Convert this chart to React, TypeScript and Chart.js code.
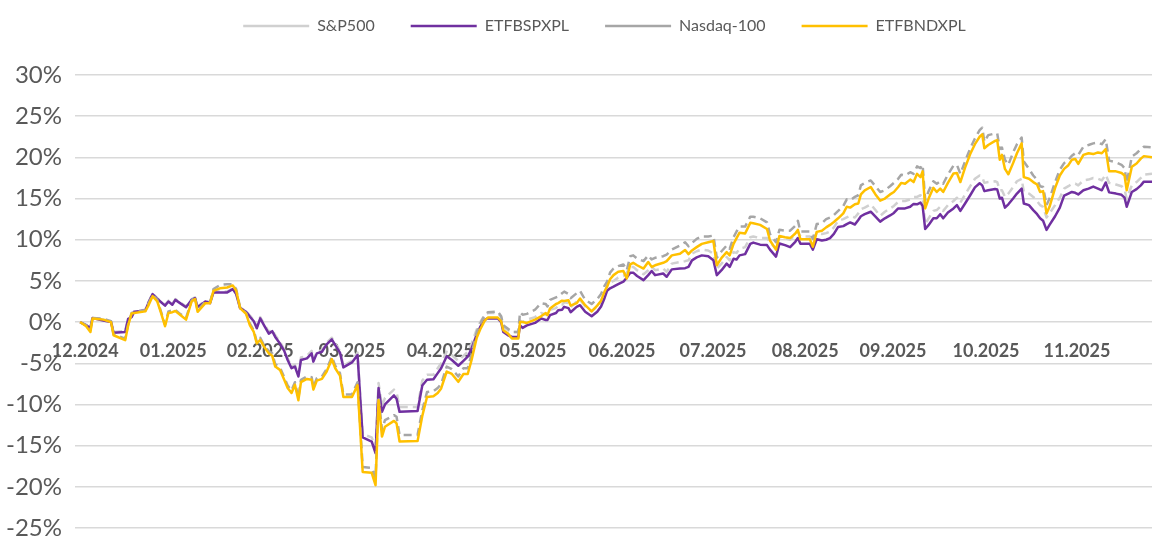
import React, { useEffect, useRef } from "react";
import { Chart, registerables } from "chart.js";

Chart.register(...registerables);

// Trading-day position of each sampled point (0 = first session shown)
const tradingDay = [
  0, 1.4, 2.4, 2.9, 5.4, 7.2, 7.8, 10.5, 11.2, 12.0,
  12.6, 15.2, 15.9, 16.9, 18.0, 18.9, 19.8, 20.6, 21.5, 22.2,
  23.3, 24.7, 26.0, 26.8, 27.4, 29.2, 30.3, 31.1, 32.6, 34.3,
  35.6, 36.4, 37.3, 38.7, 39.6, 40.5, 41.2, 42.0, 42.9, 44.0,
  44.8, 45.5, 46.6, 47.6, 48.4, 49.3, 50.1, 50.9, 51.5, 52.9,
  54.0, 54.4, 55.2, 56.4, 57.5, 58.7, 59.5, 60.6, 61.4, 63.4,
  64.7, 65.9, 68.0, 68.9, 69.6, 70.4, 71.1, 73.2, 73.8, 74.5,
  78.7, 79.8, 80.9, 82.4, 83.4, 84.2, 85.5, 86.7, 88.2, 89.4,
  90.4, 91.3, 92.5, 93.3, 94.4, 95.1, 97.4, 98.2, 98.7, 99.8,
  100.7, 102.2, 102.6, 103.2, 104.2, 106.1, 107.5, 108.6, 109.0, 109.6,
  111.0, 111.5, 112.4, 112.9, 113.9, 114.4, 115.8, 116.6, 117.8, 119.3,
  120.6, 121.5, 122.3, 122.9, 123.6, 124.4, 125.5, 126.7, 127.5, 128.3,
  129.0, 129.9, 131.4, 132.5, 133.3, 134.1, 136.0, 136.8, 138.0, 139.9,
  141.1, 141.9, 142.7, 143.8, 145.0, 146.5, 147.7, 148.5, 149.6, 150.8,
  151.5, 152.4, 153.1, 153.8, 155.1, 156.3, 157.0, 158.6, 160.2, 160.9,
  162.3, 163.1, 164.4, 165.6, 166.8, 167.4, 168.0, 170.2, 170.9, 171.8,
  173.0, 174.0, 174.9, 175.8, 176.8, 178.0, 178.8, 179.6, 180.7, 181.5,
  182.1, 183.0, 184.4, 185.5, 186.6, 187.7, 188.9, 189.8, 190.8, 191.5,
  192.4, 193.6, 194.4, 195.2, 196.0, 196.5, 197.1, 197.9, 199.0, 199.8,
  200.6, 201.3, 202.4, 203.7, 204.5, 205.3, 206.4, 207.6, 208.7, 209.8,
  210.4, 210.9, 211.8, 213.4, 213.9, 214.5, 215.0, 215.7, 216.5, 217.6,
  218.5, 219.6, 220.1, 221.3, 222.3, 223.2, 223.9, 224.6, 225.4, 226.1,
  227.4, 228.5, 229.5, 230.5, 231.3, 232.1, 232.8, 234.0, 235.2, 236.3,
  237.4, 238.3, 239.2, 240.0, 241.6, 242.9, 243.6, 244.1, 245.3, 246.4,
  247.4, 248.1, 250.0,
];

// Cumulative return, %
const sp500 = [
  0, -0.3, -0.6, 0.6, 0.3, 0.1, -1.2, -1.1, 0.5, 0.7,
  1.3, 1.5, 2.4, 3.5, 2.9, 2.5, 2.1, 2.6, 2.2, 2.8,
  2.4, 1.9, 2.8, 3.0, 1.9, 2.6, 2.4, 3.7, 3.7, 3.7,
  4.1, 3.5, 1.8, 1.3, 0.8, 0.2, -0.6, 0.6, -0.2, -1.2,
  -0.9, -1.6, -2.4, -3.3, -4.4, -5.4, -5.2, -6.4, -4.3, -4.1,
  -3.5, -4.6, -3.6, -3.4, -2.5, -1.9, -2.6, -3.5, -5.3, -4.7,
  -3.7, -13.6, -14.0, -15.2, -7.4, -10.2, -9.2, -8.2, -8.5, -10.3,
  -10.3, -7.1, -6.4, -6.4, -5.6, -5.0, -3.6, -4.0, -4.7, -4.1,
  -3.6, -2.6, -0.9, 0.0, 0.9, 1.1, 1.1, 0.6, -0.6, -1.0,
  -1.2, -1.2, 0.2, 0.0, 0.3, 0.6, 1.1, 0.9, 0.9, 1.5,
  1.7, 2.05, 2.1, 2.4, 2.3, 1.8, 2.5, 2.7, 1.9, 1.3,
  1.9, 2.5, 3.5, 4.4, 4.8, 5.0, 5.4, 5.6, 6.0, 6.7,
  6.7, 6.3, 5.8, 6.3, 6.7, 6.3, 6.5, 6.1, 7.1, 7.3,
  7.4, 7.5, 8.3, 8.6, 8.8, 8.7, 8.3, 6.5, 7.1, 7.9,
  7.5, 8.5, 8.4, 8.9, 9.1, 10.3, 10.4, 10.2, 10.2, 9.7,
  8.9, 10.4, 10.2, 10.0, 10.6, 11.0, 10.4, 10.4, 9.7, 10.9,
  10.7, 10.8, 11.0, 11.5, 12.3, 12.5, 12.7, 12.9, 12.7, 13.2,
  13.7, 13.9, 14.3, 13.6, 12.9, 13.4, 13.8, 14.1, 14.6, 14.7,
  14.7, 14.9, 15.2, 15.2, 15.4, 15.2, 11.9, 12.6, 13.5, 13.6,
  14.0, 13.5, 14.2, 14.7, 15.1, 14.5, 15.5, 16.5, 17.4, 17.8,
  17.6, 16.9, 17.0, 17.1, 17.0, 16.0, 16.0, 15.2, 15.6, 16.4,
  17.1, 17.4, 15.8, 15.6, 15.2, 14.7, 14.2, 14.0, 12.7, 13.2,
  14.2, 15.1, 16.2, 16.5, 16.8, 16.8, 16.6, 17.2, 17.3, 17.5,
  17.4, 17.2, 17.9, 16.9, 16.7, 16.5, 16.1, 15.0, 16.6, 17.0,
  17.5, 17.9, 18.0,
];

const etfbspxpl = [
  0, -0.4, -0.7, 0.5, 0.2, 0.0, -1.3, -1.2, 0.4, 0.6,
  1.25, 1.4, 2.3, 3.4, 2.8, 2.4, 2.0, 2.5, 2.1, 2.7,
  2.3, 1.8, 2.7, 2.9, 1.8, 2.5, 2.3, 3.6, 3.6, 3.6,
  4.0, 3.4, 1.7, 1.25, 0.65, 0.1, -0.75, 0.45, -0.4, -1.4,
  -1.1, -1.8, -2.6, -3.5, -4.6, -5.6, -5.4, -6.6, -4.6, -4.4,
  -3.8, -4.8, -3.8, -3.6, -2.7, -2.1, -2.8, -3.7, -5.5, -4.9,
  -4.0, -14.0, -14.5, -15.9, -8.0, -10.9, -10.0, -8.9, -9.3, -10.9,
  -10.8, -7.7, -7.0, -6.95, -6.2, -5.6, -4.15, -4.6, -5.3, -4.7,
  -4.2, -3.2, -1.5, -0.6, 0.3, 0.45, 0.45, 0.0, -1.2, -1.6,
  -1.8, -1.8, -0.4, -0.7, -0.4, -0.1, 0.45, 0.25, 0.25, 0.85,
  1.1, 1.45, 1.5, 1.85, 1.7, 1.2, 1.85, 2.05, 1.25, 0.7,
  1.25, 1.9, 2.9, 3.8, 4.1, 4.3, 4.6, 4.9, 5.4, 6.0,
  6.0, 5.6, 5.1, 5.7, 6.2, 5.7, 5.9, 5.5, 6.4, 6.5,
  6.55, 6.7, 7.5, 7.85, 8.1, 8.0, 7.5, 5.7, 6.3, 7.1,
  6.7, 7.7, 7.6, 8.1, 8.25, 9.5, 9.65, 9.4, 9.35, 8.8,
  7.95, 9.55, 9.35, 9.1, 9.75, 10.2, 9.5, 9.5, 8.8, 10.05,
  9.9, 10.0, 10.2, 10.7, 11.55, 11.65, 11.9, 12.1, 11.85, 12.4,
  12.85, 13.1, 13.4, 12.8, 12.2, 12.6, 12.95, 13.25, 13.8, 13.8,
  13.8, 14.0, 14.35, 14.3, 14.5, 14.1, 11.3, 11.8, 12.6, 12.6,
  13.1, 12.6, 13.3, 13.8, 14.2, 13.5, 14.4, 15.4, 16.35, 16.85,
  16.6, 15.9, 16.0, 16.15, 16.1, 15.0, 15.1, 13.9, 14.3, 15.0,
  15.6, 16.2, 14.4, 14.2, 13.6, 13.1, 12.6, 12.3, 11.2, 11.8,
  12.85, 13.9, 15.35, 15.6, 15.8, 15.7, 15.5, 16.0, 16.2, 16.45,
  16.2, 16.0, 16.95, 15.75, 15.6, 15.45, 15.1, 14.0, 15.8, 16.15,
  16.6, 17.05, 17.05,
];

const nasdaq100 = [
  0, -0.4, -1.0, 0.5, 0.4, 0.1, -1.5, -2.0, -0.3, 1.1,
  1.2, 1.4, 2.2, 3.3, 2.7, 1.2, -0.3, 1.3, 1.4, 1.5,
  1.0, 0.5, 2.6, 3.0, 1.4, 2.5, 2.4, 4.0, 4.5, 4.6,
  4.6, 4.0, 1.8, 1.1, -0.2, -1.0, -2.4, -1.9, -2.8, -3.5,
  -3.8, -5.1, -5.5, -6.7, -7.7, -8.3, -7.3, -9.2, -7.0, -6.6,
  -6.7, -7.9, -6.8, -6.6, -5.7, -4.2, -5.3, -6.2, -8.8, -8.8,
  -7.3, -17.6, -17.7, -18.9, -9.0, -13.1, -11.9, -11.3, -11.5, -13.7,
  -13.7, -10.7, -8.5, -8.4, -8.0, -7.5, -5.4, -5.7, -6.6, -5.6,
  -5.6, -3.9, -1.2, -0.2, 0.9, 1.2, 1.3, 0.7, -0.4, -0.8,
  -1.2, -1.2, 1.2, 0.9, 1.0, 1.5, 2.3, 2.2, 1.9, 2.7,
  3.0, 3.1, 3.5, 3.7, 3.4, 2.9, 3.5, 3.8, 2.7, 2.2,
  2.8, 3.4, 4.4, 4.9, 6.0, 6.5, 6.8, 7.0, 6.3, 8.0,
  8.1, 7.7, 7.4, 8.1, 7.6, 7.8, 8.0, 8.2, 8.8, 9.3,
  9.7, 9.2, 9.6, 10.1, 10.4, 10.4, 10.5, 7.8, 8.6, 9.3,
  8.9, 10.3, 11.0, 11.6, 11.6, 12.8, 12.8, 12.6, 12.1, 10.7,
  9.7, 11.2, 11.1, 11.1, 11.7, 12.3, 11.0, 11.0, 10.1, 11.9,
  12.0, 12.5, 12.7, 13.0, 13.5, 14.1, 14.9, 14.8, 15.2, 15.4,
  16.6, 16.9, 17.2, 16.5, 15.8, 16.0, 16.5, 16.9, 17.4, 17.9,
  17.8, 18.2, 18.0, 18.9, 18.7, 19.1, 14.8, 15.9, 17.1, 16.8,
  17.1, 16.8, 17.9, 19.0, 19.1, 18.0, 19.5, 21.1, 22.3, 23.3,
  23.6, 21.9, 22.7, 22.9, 22.9, 21.0, 21.2, 19.7, 19.1, 20.6,
  21.6, 22.4, 19.5, 18.6, 17.8, 17.3, 16.5, 16.4, 14.2, 15.0,
  17.0, 18.5, 19.3, 19.7, 20.2, 20.5, 20.3, 21.3, 21.5, 21.7,
  21.8, 21.6, 22.2, 19.6, 19.4, 19.1, 18.7, 16.9, 20.1, 20.5,
  21.0, 21.3, 21.2,
];

const etfbndxpl = [
  0, -0.5, -1.2, 0.45, 0.3, 0.0, -1.6, -2.2, -0.4, 1.05,
  1.1, 1.3, 2.0, 3.15, 2.5, 1.05, -0.5, 1.1, 1.2, 1.35,
  0.9, 0.3, 2.5, 2.8, 1.25, 2.3, 2.3, 3.8, 4.1, 4.2,
  4.45, 3.8, 1.7, 1.0, -0.4, -1.2, -2.6, -2.15, -3.0, -3.8,
  -4.1, -5.4, -5.8, -7.0, -8.0, -8.6, -7.6, -9.5, -7.3, -6.9,
  -7.0, -8.2, -7.1, -6.9, -6.0, -4.5, -5.6, -6.5, -9.1, -9.1,
  -7.65, -18.2, -18.3, -19.8, -9.5, -13.9, -12.7, -12.0, -12.3, -14.5,
  -14.45, -11.4, -9.1, -9.0, -8.6, -8.05, -6.0, -6.3, -7.25, -6.3,
  -6.3, -4.6, -1.9, -0.9, 0.2, 0.55, 0.55, 0.1, -1.0, -1.4,
  -2.0, -2.0, 0.0, 0.0, -0.1, 0.3, 0.7, 1.1, 0.85, 1.65,
  2.2, 2.3, 2.6, 2.55, 2.65, 2.0, 2.3, 2.85, 2.05, 1.3,
  2.0, 2.6, 3.7, 4.3, 5.2, 5.7, 6.1, 6.2, 5.3, 7.0,
  7.2, 6.9, 6.5, 7.3, 6.7, 6.9, 7.2, 7.4, 8.1, 8.3,
  8.75, 8.25, 8.7, 9.1, 9.5, 9.7, 9.85, 6.9, 7.8, 8.5,
  8.1, 9.5, 10.2, 10.85, 10.75, 12.05, 12.0, 11.8, 11.3, 9.9,
  8.8, 10.45, 10.3, 10.2, 10.75, 11.2, 10.05, 10.05, 9.15, 10.95,
  11.1, 11.5, 11.8, 12.15, 12.6, 13.2, 14.0, 13.9, 14.3, 14.4,
  15.5, 16.0, 16.4, 15.5, 14.75, 15.0, 15.5, 15.8, 16.4, 16.9,
  16.8, 17.3, 17.0, 18.0, 17.6, 18.3, 13.8, 15.0, 16.3, 15.8,
  16.2, 15.8, 16.9, 18.05, 18.1, 17.0, 18.75, 20.4, 21.6, 22.5,
  22.8, 21.1, 21.5, 22.0, 22.1, 19.7, 20.3, 18.6, 17.95, 19.3,
  20.5, 21.7, 17.6, 17.4, 17.0, 16.7, 15.8, 15.9, 13.2, 14.0,
  16.3, 17.8, 18.6, 19.05, 19.7, 19.8, 19.2, 20.3, 20.5, 20.4,
  20.6, 20.5, 21.0, 18.3, 18.3, 18.1, 17.8, 16.0, 18.85, 19.25,
  19.85, 20.15, 20.0,
];

// Month labels and the trading-day position where each is shown
const monthLabels = [
  "12.2024", "01.2025", "02.2025", "03.2025", "04.2025", "05.2025",
  "06.2025", "07.2025", "08.2025", "09.2025", "10.2025", "11.2025",
];
const monthTickDays = [1.2, 21.7, 42.0, 63.4, 84.0, 105.6, 126.4, 147.6, 169.1, 189.6, 211.3, 232.5];

const seriesNames = ["S&P500", "ETFBSPXPL", "Nasdaq-100", "ETFBNDXPL"];

const toPoints = (values: number[]) => tradingDay.map((d, i) => ({ x: d, y: values[i] }));

// Adds room between the legend and the plot, and nudges the legend left
const legendSpacer = {
  id: "legendSpacer",
  beforeInit(chart: any) {
    const legend = chart.legend;
    if (!legend) return;
    const origFit = legend.fit;
    legend.fit = function fit() {
      origFit.call(this);
      this.height += 31;
    };
  },
  afterLayout(chart: any) {
    const legend = chart.legend;
    if (!legend) return;
    legend.left -= 18;
    legend.width += 18;
  },
};

export default function App() {
  const canvasRef = useRef<HTMLCanvasElement | null>(null);

  useEffect(() => {
    if (!canvasRef.current) return;
    const textColor = "#595959";
    const chart = new Chart(canvasRef.current, {
      type: "line",
      data: {
        datasets: [
          {
            label: seriesNames[0],
            data: toPoints(sp500),
            borderColor: "#D0D0D0",
            backgroundColor: "#D0D0D0",
            borderWidth: 2.5,
            borderDash: [8, 5],
            order: 3,
          },
          {
            label: seriesNames[1],
            data: toPoints(etfbspxpl),
            borderColor: "#7030A0",
            backgroundColor: "#7030A0",
            borderWidth: 2.5,
            order: 2,
          },
          {
            label: seriesNames[2],
            data: toPoints(nasdaq100),
            borderColor: "#A6A6A6",
            backgroundColor: "#A6A6A6",
            borderWidth: 2.5,
            borderDash: [8, 5],
            order: 1,
          },
          {
            label: seriesNames[3],
            data: toPoints(etfbndxpl),
            borderColor: "#FFC000",
            backgroundColor: "#FFC000",
            borderWidth: 2.5,
            order: 0,
          },
        ],
      },
      options: {
        animation: false,
        responsive: true,
        maintainAspectRatio: false,
        events: [],
        layout: { padding: { top: -18, right: 3, bottom: 8, left: 0 } },
        elements: {
          point: { radius: 0 },
          line: { tension: 0, borderJoinStyle: "round", fill: false },
        },
        plugins: {
          tooltip: { enabled: false },
          legend: {
            position: "top",
            fullSize: false,
            labels: {
              usePointStyle: true,
              pointStyle: "line",
              pointStyleWidth: 66,
              padding: 36,
              color: textColor,
              font: { family: "Lato", size: 16 },
              sort: (a: any, b: any) => a.datasetIndex - b.datasetIndex,
            },
          },
        },
        scales: {
          x: {
            type: "linear",
            position: { y: 0 } as any,
            min: -1.2,
            max: 250,
            grid: { display: false, drawTicks: false },
            border: { display: false },
            afterFit: (scale: any) => {
              scale.height = 0;
            },
            afterBuildTicks: (scale: any) => {
              scale.ticks = monthTickDays.map((v) => ({ value: v }));
            },
            ticks: {
              autoSkip: false,
              maxRotation: 0,
              padding: 18,
              color: textColor,
              font: { family: "Lato", size: 18, weight: "bold" },
              callback: (_v: any, i: number) => monthLabels[i],
            },
          },
          y: {
            type: "linear",
            min: -25,
            max: 30,
            grid: { color: "#D9D9D9", lineWidth: 1.5, drawTicks: false },
            border: { display: false },
            afterFit: (scale: any) => {
              scale.width = 75;
              scale.paddingBottom = 0;
            },
            ticks: {
              stepSize: 5,
              padding: 13,
              color: textColor,
              font: { family: "Lato", size: 24 },
              callback: (v: any) => `${v}%`,
            },
          },
        },
      },
      plugins: [legendSpacer],
    });
    let cancelled = false;
    if ((document as any).fonts && (document as any).fonts.ready) {
      (document as any).fonts.ready.then(() => {
        if (!cancelled) chart.update();
      });
    }
    return () => {
      cancelled = true;
      chart.destroy();
    };
  }, []);

  return (
    <div
      style={{
        position: "fixed",
        left: 0,
        top: 0,
        width: "1155px",
        height: "536px",
        background: "#ffffff",
      }}
    >
      <canvas ref={canvasRef} />
    </div>
  );
}
